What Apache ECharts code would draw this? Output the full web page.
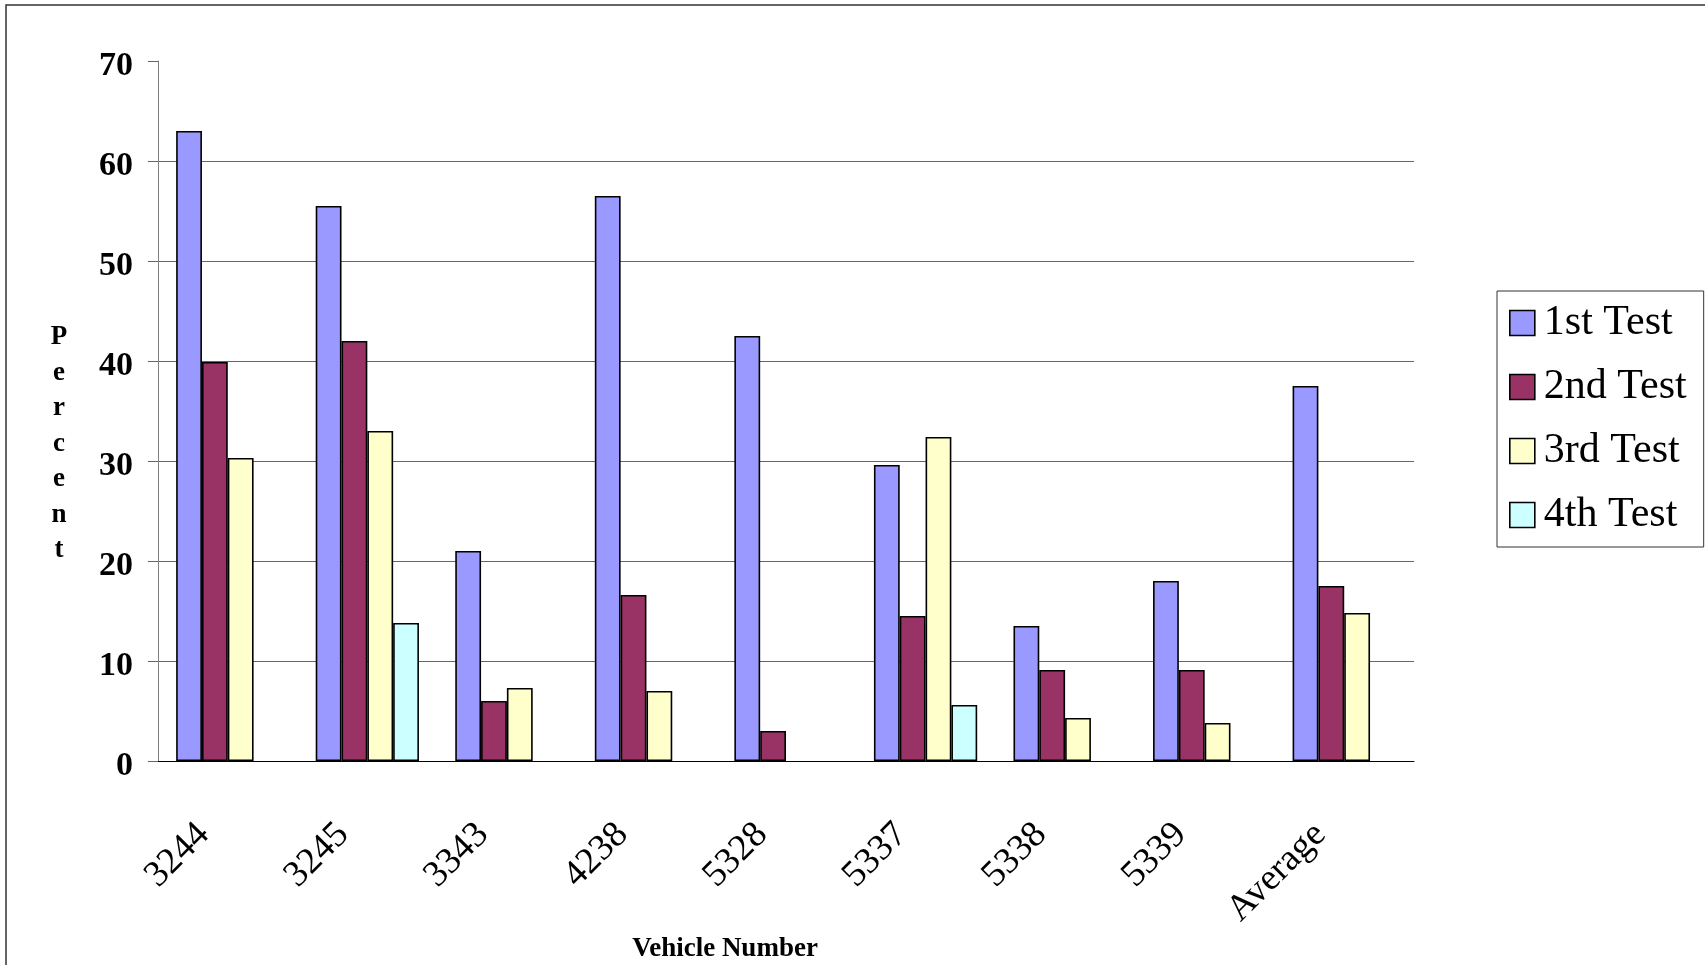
<!DOCTYPE html>
<html>
<head>
<meta charset="utf-8">
<title>Vehicle Number - Percent</title>
<script src="https://cdn.jsdelivr.net/npm/echarts@6/dist/echarts.min.js"></script>
<style>
    html, body { margin: 0; padding: 0; background: #fff; }
    #chart { width: 1705px; height: 965px; }
</style>
</head>
<body>
<div id="chart"></div>
<script>
// categories on the x axis
const categories = ['3244', '3245', '3343', '4238', '5328', '5337', '5338', '5339', 'Average'];

// series values (percent), null = no bar
const test1 = [63.0, 55.5, 21.0, 56.5, 42.5, 29.6, 13.5, 18.0, 37.5];
const test2 = [39.9, 42.0, 6.0, 16.6, 3.0, 14.5, 9.1, 9.1, 17.5];
const test3 = [30.3, 33.0, 7.3, 7.0, null, 32.4, 4.3, 3.8, 14.8];
const test4 = [null, 13.8, null, null, null, 5.6, null, null, null];

const seriesNames = ['1st Test', '2nd Test', '3rd Test', '4th Test'];
const seriesColors = ['#9999FF', '#993366', '#FFFFCC', '#CCFFFF'];

// y axis ticks
const yMin = 0;
const yMax = 70;
const yStep = 10;

const serif = '"Liberation Serif", "Times New Roman", serif';

const chart = echarts.init(document.getElementById('chart'));

const makeBar = (name, data, color) => ({
    name: name,
    type: 'bar',
    data: data,
    barGap: '0%',
    barCategoryGap: '26%',
    itemStyle: {
        color: color,
        borderColor: '#000',
        borderWidth: 1.6
    }
});

chart.setOption({
    animation: false,
    backgroundColor: '#fff',
    grid: {
        left: 158,
        right: 291,
        top: 61,
        bottom: 204,
        outerBoundsMode: 'none',
        containLabel: false
    },
    legend: {
        orient: 'vertical',
        left: 1497,
        top: 291,
        itemWidth: 25,
        itemHeight: 25,
        itemGap: 16,
        padding: [8, 17, 8, 12],
        borderColor: '#333',
        borderWidth: 1,
        icon: 'rect',
        itemStyle: { borderColor: '#000', borderWidth: 1.6 },
        textStyle: {
            fontFamily: serif,
            fontSize: 42,
            color: '#000',
            lineHeight: 42,
            padding: [6, 0, 0, 4]
        },
        data: seriesNames
    },
    xAxis: {
        type: 'category',
        data: categories,
        boundaryGap: true,
        name: 'Vehicle Number',
        nameLocation: 'middle',
        nameGap: 155,
        nameTextStyle: {
            fontFamily: serif,
            fontWeight: 'bold',
            fontSize: 27,
            color: '#000',
            padding: [0, 122, 0, 0]
        },
        axisLine: { lineStyle: { color: '#000', width: 1 } },
        axisTick: { length: 12, lineStyle: { color: '#000' }, alignWithLabel: false },
        axisLabel: {
            interval: 0,
            rotate: 45,
            margin: 44,
            padding: [0, 34, 0, 0],
            fontFamily: serif,
            fontSize: 37,
            color: '#000'
        },
        splitLine: { show: false }
    },
    yAxis: {
        type: 'value',
        min: yMin,
        max: yMax,
        interval: yStep,
        axisLine: { show: true, lineStyle: { color: '#808080', width: 1 } },
        axisTick: { show: true, length: 10, lineStyle: { color: '#666' } },
        axisLabel: {
            margin: 25,
            formatter: '{v|{value}}',
            rich: {
                v: {
                    padding: [10, 0, 0, 0],
                    fontFamily: serif,
                    fontWeight: 'bold',
                    fontSize: 34,
                    color: '#000'
                }
            }
        },
        splitLine: {
            show: true,
            showMaxLine: false,
            lineStyle: { color: '#666', width: 1.2 }
        }
    },
    graphic: [
        {
            // outer chart frame
            type: 'rect',
            shape: { x: 6, y: 5, width: 1720, height: 980 },
            style: { fill: 'none', stroke: '#333', lineWidth: 1.5 },
            silent: true
        },
        {
            // vertical y axis title
            type: 'text',
            x: 59,
            y: 444,
            style: {
                text: 'P\ne\nr\nc\ne\nn\nt',
                font: 'bold 27px ' + serif,
                lineHeight: 35.5,
                fill: '#000',
                align: 'center',
                verticalAlign: 'middle'
            }
        }
    ],
    series: [
        makeBar(seriesNames[0], test1, seriesColors[0]),
        makeBar(seriesNames[1], test2, seriesColors[1]),
        makeBar(seriesNames[2], test3, seriesColors[2]),
        makeBar(seriesNames[3], test4, seriesColors[3])
    ]
});
</script>
</body>
</html>
